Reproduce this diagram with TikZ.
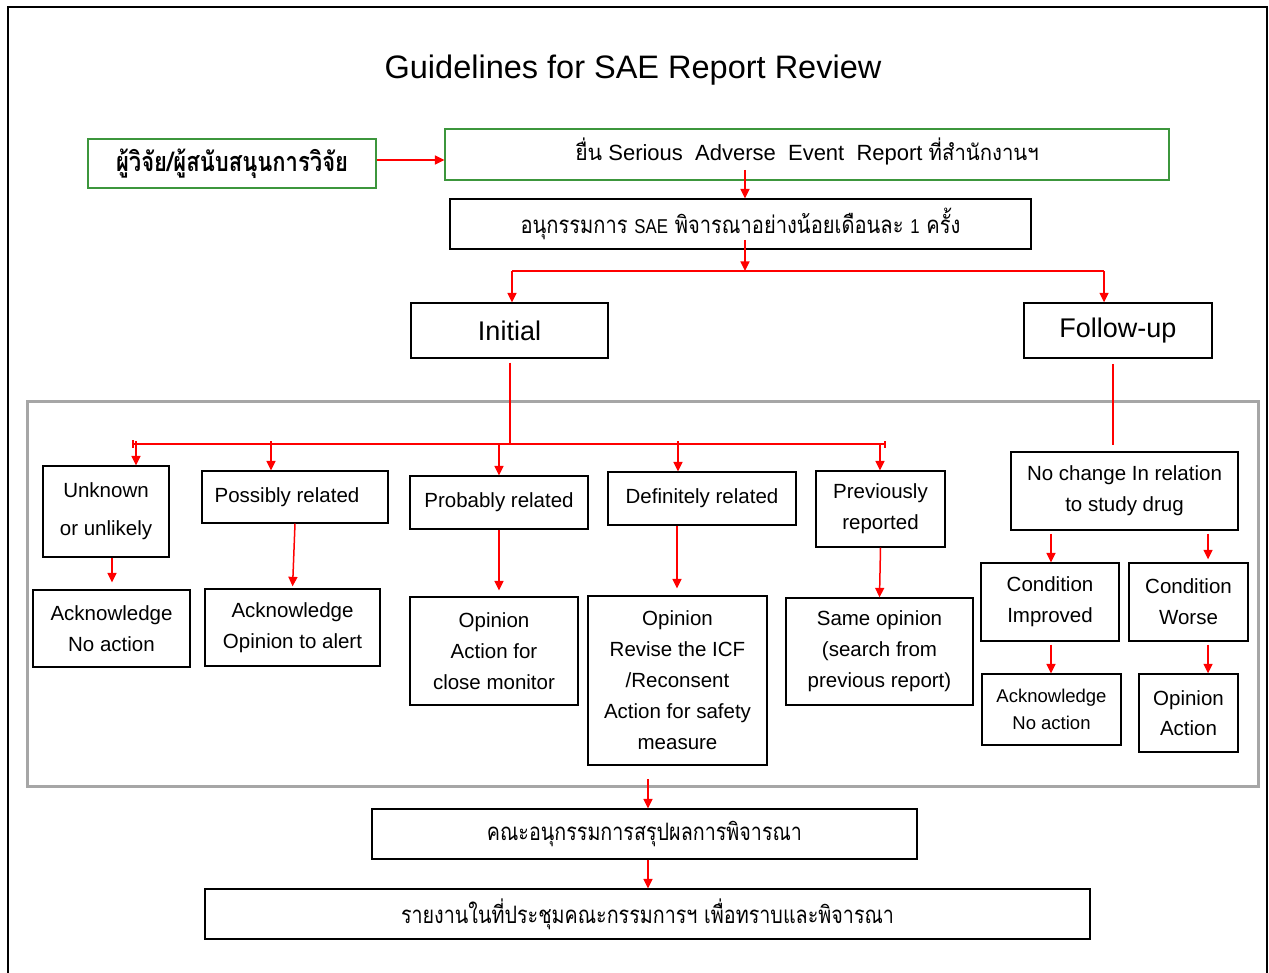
\documentclass[tikz,border=0pt]{standalone}
\usepackage{fontspec}
\usepackage{graphicx}
\setmainfont{Liberation Sans}
\newfontfamily\thaifont[Script=Thai]{Loma}
\usetikzlibrary{arrows.meta}
\newcommand{\ThFit}[2]{\resizebox{#1}{\height}{#2}}
\definecolor{boxgreen}{RGB}{60,150,60}
\definecolor{panelgray}{RGB}{166,166,166}
\begin{document}
\begin{tikzpicture}[x=1pt,y=-1pt,
  box/.style={draw=black, line width=1.3pt, inner sep=0pt, align=center, font=\fontsize{20.5}{31}\selectfont},
  gbox/.style={box, draw=boxgreen},
  arr/.style={draw=red, line width=1.5pt, -{Triangle[length=9.5pt,width=9pt]}},
  ln/.style={draw=red, line width=1.4pt},
  thn/.style={draw=red, line width=1.1pt},
]
\useasboundingbox (0,0) rectangle (1269,973);
\fill[white] (0,0) rectangle (1269,973);
% outer frame
\draw[line width=2pt] (8,973) -- (8,7) -- (1267,7) -- (1267,973);

% title
\node[anchor=base, font=\fontsize{32.5}{39}\selectfont] (title) at (633,79) {Guidelines for SAE Report Review};

% panel
\node[draw=panelgray, line width=3pt, minimum width=1231pt, minimum height=384pt, inner sep=0pt] (panel) at (642.5,594) {};

% top boxes
\node[gbox, minimum width=288pt, minimum height=49pt] (src) at (232,163.5)
  {\fontsize{27}{30}\selectfont\thaifont\bfseries\ThFit{232pt}{ผู้วิจัย/ผู้สนับสนุนการวิจัย}};
\node[gbox, minimum width=724pt, minimum height=51pt, text depth=11pt] (sub) at (807,154.5)
  {\fontsize{22}{26}\selectfont{\thaifont\ThFit{27pt}{ยื่น}}\ Serious\ \ Adverse\ \ Event\ \ Report\ {\thaifont\ThFit{110pt}{ที่สำนักงานฯ}}};
\node[box, minimum width=581pt, minimum height=50pt] (cmt) at (740.5,224)
  {\ThFit{440pt}{\fontsize{24}{28}\selectfont\thaifont อนุกรรมการ {\fontsize{20}{24}\selectfont\rmfamily SAE} พิจารณาอย่างน้อยเดือนละ {\fontsize{20}{24}\selectfont\rmfamily 1} ครั้ง}};

\node[box, minimum width=197pt, minimum height=55pt, font=\fontsize{27}{32}\selectfont] (init) at (509.5,330.5) {Initial};
\node[box, minimum width=188pt, minimum height=55pt, font=\fontsize{27}{32}\selectfont] (fup) at (1118,330.5) {Follow-up};

% level 1
\node[box, minimum width=126pt, minimum height=91pt, font=\fontsize{20.5}{38}\selectfont] (unk) at (106,511.5) {Unknown\\or unlikely};
\node[box, minimum width=186pt, minimum height=52pt] (pos) at (295,497) {Possibly related\hspace{16pt}};
\node[box, minimum width=178pt, minimum height=53pt] (prob) at (499,502.5) {Probably related};
\node[box, minimum width=188pt, minimum height=53pt] (defi) at (702,498.5) {Definitely related};
\node[box, minimum width=129pt, minimum height=76pt] (prev) at (880.5,509) {Previously\\reported};
\node[box, minimum width=227pt, minimum height=78pt] (noch) at (1124.5,491) {No change In relation\\to study drug};

% level 2
\node[box, minimum width=157pt, minimum height=77pt] (ack1) at (111.5,628.5) {Acknowledge\\No action};
\node[box, minimum width=175pt, minimum height=77pt] (ack2) at (292.5,627.5) {Acknowledge\\Opinion to alert};
\node[box, minimum width=168pt, minimum height=108pt] (op1) at (494,651) {Opinion\\Action for\\close monitor};
\node[box, minimum width=179pt, minimum height=169pt] (op2) at (677.5,680.5) {Opinion\\Revise the ICF\\/Reconsent\\Action for safety\\measure};
\node[box, minimum width=187pt, minimum height=107pt] (same) at (879.5,651.5) {Same opinion\\(search from\\previous report)};
\node[box, minimum width=138pt, minimum height=78pt] (ci) at (1050,602) {Condition\\Improved};
\node[box, minimum width=119pt, minimum height=78pt] (cw) at (1188.5,602) {Condition\\Worse};
\node[box, minimum width=139pt, minimum height=71pt, font=\fontsize{18.5}{27}\selectfont] (ack3) at (1051.5,709.5) {Acknowledge\\No action};
\node[box, minimum width=99pt, minimum height=78pt, font=\fontsize{20.5}{30}\selectfont] (op3) at (1188.5,713) {Opinion\\Action};

% bottom
\node[box, minimum width=545pt, minimum height=50pt] (sum) at (644.5,834)
  {\ThFit{315pt}{\fontsize{24}{28}\selectfont\thaifont คณะอนุกรรมการสรุปผลการพิจารณา}};
\node[box, minimum width=885pt, minimum height=50pt] (rep) at (647.5,914)
  {\ThFit{493pt}{\fontsize{24}{28}\selectfont\thaifont รายงานในที่ประชุมคณะกรรมการฯ เพื่อทราบและพิจารณา}};

% coordinates
\coordinate (y160) at (0,160);
\coordinate (s1) at (745,170);
\coordinate (s2) at (745,240);
\coordinate (j1) at (745,271);
\coordinate (jl) at (512,271);
\coordinate (jr) at (1104,271);
\coordinate (b0) at (510,443);
\coordinate (bl) at (133,444);
\coordinate (br) at (885,444);
\coordinate (t1) at (136,444);
\coordinate (t2) at (271,444);
\coordinate (t3) at (499,444);
\coordinate (t4) at (678,444);
\coordinate (t5) at (880,444);
\coordinate (f1) at (1113,364);
\coordinate (f2) at (1113,445);
\coordinate (xu) at (112,0);
\coordinate (xd) at (677,0);
\coordinate (xw) at (1208,0);
\coordinate (xi) at (1051,0);
\coordinate (p1) at (648,779);

% connectors
\draw[arr] (src.east |- y160) -- (sub.west |- y160);
\draw[arr] (s1) -- (s1 |- cmt.north);
\draw[arr] (s2) -- (j1);
\draw[ln] (jl) -- (jr);
\draw[arr] (jl) -- (jl |- init.north);
\draw[arr] (jr) -- (jr |- fup.north);

\draw[thn] ([yshift=-4pt]init.south -| b0) -- (b0);
\draw[ln] (bl) -- (br);
\draw[ln] ([yshift=4pt]bl) -- ([yshift=-4pt]bl);
\draw[ln] ([yshift=3pt]br) -- ([yshift=-4pt]br);
\draw[arr] ([yshift=3pt]t1) -- (t1 |- unk.north);
\draw[arr] ([yshift=3pt]t2) -- (t2 |- pos.north);
\draw[arr] (t3) -- (t3 |- prob.north);
\draw[arr] ([yshift=3pt]t4) -- (t4 |- defi.north);
\draw[arr] (t5) -- (t5 |- prev.north);
\draw[thn] (f1) -- (f2);

\draw[arr, shorten >=7pt] (xu |- unk.south) -- (xu |- ack1.north);
\draw[arr, shorten >=2pt] (pos.south) -- (ack2.north);
\draw[arr, shorten >=6pt] (prob.south) -- (prob.south |- op1.north);
\draw[arr, shorten >=7pt] (xd |- defi.south) -- (xd |- op2.north);
\draw[arr] (prev.south) -- (same.north);
\draw[arr, shorten <=3pt] (xi |- noch.south) -- (xi |- ci.north);
\draw[arr, shorten <=3pt, shorten >=3pt] (xw |- noch.south) -- (xw |- cw.north);
\draw[arr, shorten <=3pt] (xi |- ci.south) -- (xi |- ack3.north);
\draw[arr, shorten <=3pt] (xw |- cw.south) -- (xw |- op3.north);
\draw[arr] (p1) -- (p1 |- sum.north);
\draw[arr] (p1 |- sum.south) -- (p1 |- rep.north);
\end{tikzpicture}
\end{document}
